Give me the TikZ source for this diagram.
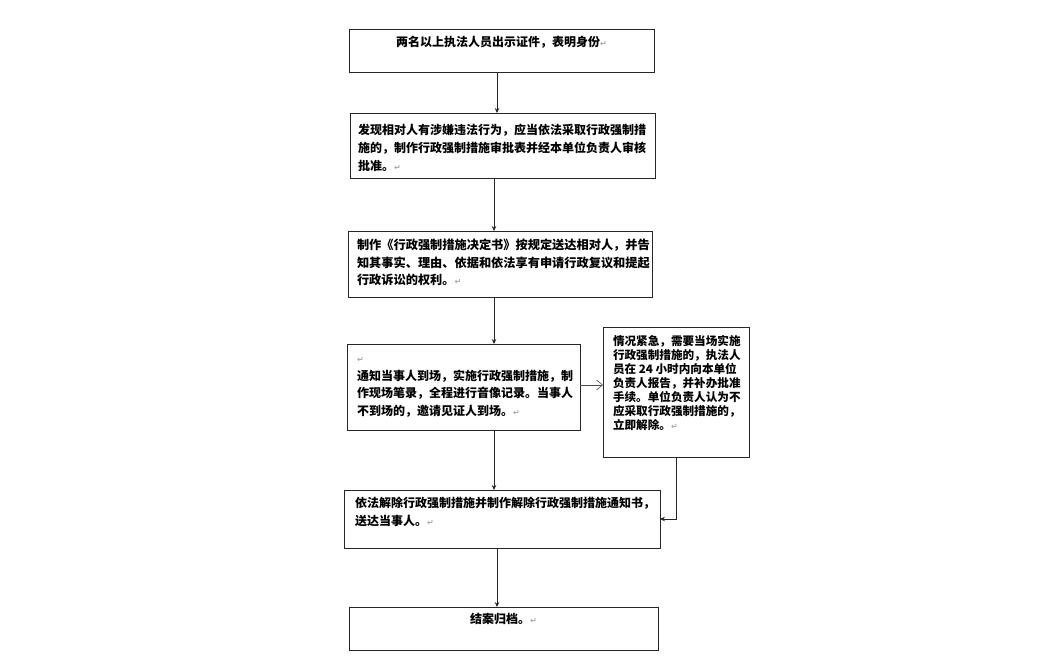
\documentclass[tikz,border=0pt]{standalone}
\usepackage{fontspec}
\usepackage{tikz}
\usetikzlibrary{arrows.meta}
\newfontfamily\cjk{Noto Sans CJK SC}
\newfontfamily\retfont{DejaVu Sans}
\newcommand{\retmark}{{\retfont\color{black!35}\fontsize{8}{8}\selectfont ↵}}
\newcommand{\steptext}[4]{\parbox[c][#2][t]{#1}{\rule{0pt}{#3}#4}}
\tikzset{
    stepbox/.style = {draw=black!85, line width=0.7pt, inner ysep=0pt, outer sep=0pt, anchor=north west,
                      font=\cjk\bfseries\fontsize{12}{18}\selectfont},
    flow/.style = {draw=black!85, line width=0.7pt, -{Stealth[length=5pt,width=4.5pt]}},
    sideflow/.style = {draw=black!70, line width=0.6pt, -{Straight Barb[length=6pt,width=10pt]}}
}

\begin{document}
\begin{tikzpicture}[x=1pt,y=-1pt]
        %\draw[help lines] (0,0) grid[step=50] (1050,669);
        \useasboundingbox (0,0) rectangle (1050,669);
        \node[stepbox, inner xsep=8pt] (b1) at (349,29)
            {\steptext{289pt}{43pt}{17.5pt}{\centering 两名以上执法人员出示证件，表明身份\retmark}};
        \node[stepbox, inner xsep=8pt] (b2) at (350,113)
            {\steptext{289pt}{65pt}{21.5pt}{发现相对人有涉嫌违法行为，应当依法采取行政强制措\\
             施的，制作行政强制措施审批表并经本单位负责人审核\\
             批准。\retmark}};
        \node[stepbox, inner xsep=9pt] (b3) at (348,231)
            {\steptext{286pt}{66pt}{18.5pt}{\fontsize{12.2}{17.5}\selectfont
             制作《行政强制措施决定书》按规定送达相对人，并告\\
             知其事实、理由、依据和依法享有申请行政复议和提起\\
             行政诉讼的权利。\retmark}};
        \node[stepbox, inner xsep=10pt] (b4) at (347,344)
            {\steptext{213pt}{86pt}{18.5pt}{\fontsize{12}{17.5}\selectfont
             \retmark\\
             通知当事人到场，实施行政强制措施，制\\
             作现场笔录，全程进行音像记录。当事人\\
             不到场的，邀请见证人到场。\retmark}};
        \node[stepbox, inner xsep=10pt] (b5) at (603,327)
            {\steptext{126pt}{130pt}{18pt}{\fontsize{11.6}{14}\selectfont
             情况紧急，需要当场实施\\
             行政强制措施的，执法人\\
             员在 24 小时内向本单位\\
             负责人报告，并补办批准\\
             手续。单位负责人认为不\\
             应采取行政强制措施的，\\
             立即解除。\retmark}};
        \node[stepbox, inner xsep=11pt] (b6) at (344,490)
            {\steptext{294pt}{58pt}{17.5pt}{依法解除行政强制措施并制作解除行政强制措施通知书，\\
             送达当事人。\retmark}};
        \node[stepbox, inner xsep=8pt] (b7) at (349,607)
            {\steptext{293pt}{43pt}{16.5pt}{\centering 结案归档。\retmark}};

        \draw[flow] (b1.south -| 497,0) -- (b2.north -| 497,0);
        \draw[flow] (b2.south -| 494,0) -- (b3.north -| 494,0);
        \draw[flow] (b3.south -| 494,0) -- (b4.north -| 494,0);
        \draw[flow] (b4.south -| 494,0) -- (b6.north -| 494,0);
        \draw[flow] (b6.south -| 497,0) -- (b7.north -| 497,0);
        \draw[sideflow] (b4.east |- 0,385) -- (b5.west |- 0,385);
        \draw[flow] (b5.south -| 676,0) |- (b6.east |- 0,519);
    \end{tikzpicture}
\end{document}
